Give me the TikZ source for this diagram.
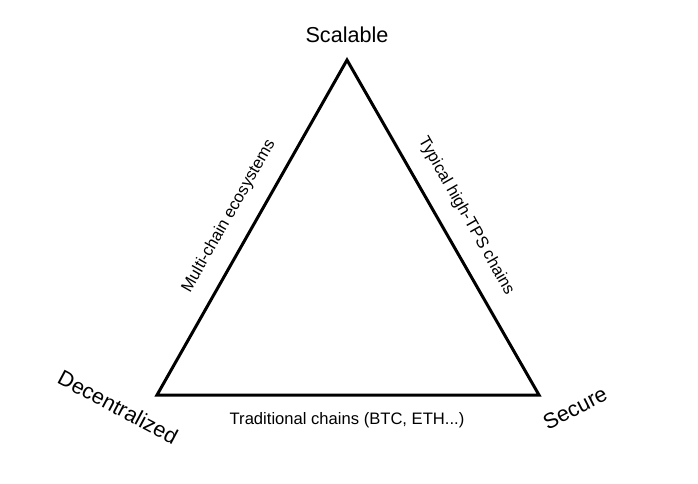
\documentclass[tikz,border=0pt]{standalone}
\usepackage{fontspec}
\setmainfont{Liberation Sans}
\usetikzlibrary{calc}

\begin{document}
\begin{tikzpicture}[
  x=1pt, y=-1pt,
  cornerlabel/.style={inner sep=0pt, font=\fontsize{21.6}{24}\selectfont },
  sidelabel/.style={inner sep=0pt, font=\fontsize{16.6}{18}\selectfont },
  edge/.style={draw=black, line width=3pt, line join=miter },
]

\useasboundingbox[fill=white] (0,0) rectangle (698,483);

%TRIANGLE
\coordinate (top) at (347,60);
\coordinate (left) at (157,395);
\coordinate (right) at (539,395);
\draw[edge] (top) -- (right) -- (left) -- cycle;

%CORNERS
\node[cornerlabel] (scalable) at (347,35) {Scalable};
\node[cornerlabel, rotate=-28] (decentralized) at (118,407) {Decentralized};
\node[cornerlabel, rotate=27] (secure) at (575,408) {Secure};

%SIDES
\node[sidelabel, rotate=60.4] (multi) at (229,216) {Multi-chain ecosystems};
\node[sidelabel, rotate=-60.4] (typical) at (466,216) {Typical high-TPS chains};
\node[sidelabel] (traditional) at (347,420) {Traditional chains (BTC, ETH...)};

\end{tikzpicture}
\end{document}
